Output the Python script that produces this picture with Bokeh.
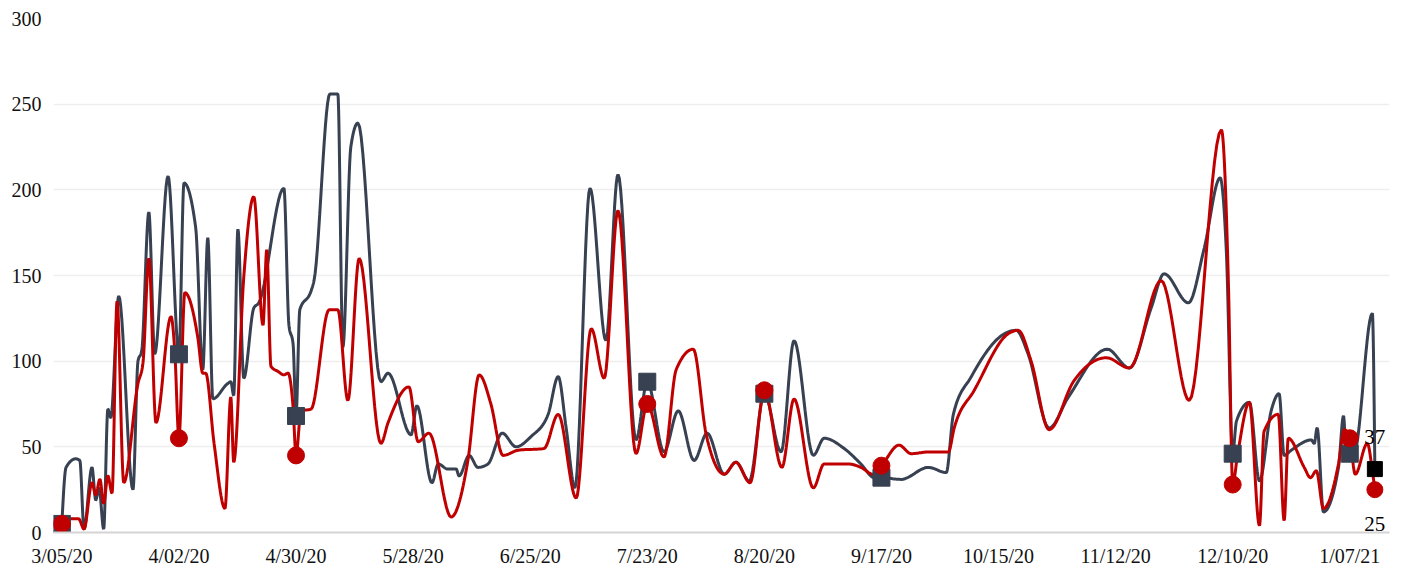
import numpy as np
from bokeh.plotting import figure
from bokeh.models import Range1d, FixedTicker, ColumnDataSource
from bokeh.embed import file_html
from bokeh.resources import INLINE
from bokeh.core.properties import value

# ---- data (day number counted from 3/05/20) ----
tick_days = [0, 28, 56, 84, 112, 140, 168, 196, 224, 252, 280, 308]
tick_labels = ["3/05/20", "4/02/20", "4/30/20", "5/28/20", "6/25/20", "7/23/20",
               "8/20/20", "9/17/20", "10/15/20", "11/12/20", "12/10/20", "1/07/21"]

dark_days = [0, 1.0, 3.3, 4.3, 5.3, 7.2, 8.1, 8.9, 10.0, 11.0, 11.7, 13.6, 17.0, 18.2, 19.1,
             20.8, 22.2, 25.4, 28, 29.2, 32.0, 33.7, 34.9, 36.1, 39.7, 40.4, 41.1, 42.1, 43.5,
             45.9, 47.1, 53.1, 54.3, 55.3, 56, 56.9, 59.6, 60.3, 64.1, 66.0, 67.2, 69.1, 70.8,
             76.3, 78.0, 83.5, 84.9, 88.5, 90.0, 92.3, 94.3, 95.0, 97.4, 99.5, 101.9, 105.3,
             108.6, 112.2, 116.3, 118.7, 120.6, 122.7, 126.3, 130.1, 133.0, 137.3, 140, 144.0,
             147.4, 151.2, 154.3, 158.4, 161.2, 164.4, 168, 172.0, 175.1, 179.7, 182.3, 187.1,
             191.1, 194.3, 196, 200.7, 207.2, 211.5, 213.2, 217.5, 225.4, 228.2, 231.1, 236.1,
             240.7, 250.0, 255.3, 260.5, 263.6, 269.4, 273.2, 277.0, 278.5, 280, 280.9, 284.0,
             286.4, 289.2, 291.1, 292.3, 294.0, 298.8, 299.5, 300.2, 301.7, 305.3, 306.5, 307.2,
             308, 309.0, 313.4, 314]
dark_vals = [5, 38, 43, 42, 2, 38, 19, 26, 2, 72, 67, 138, 25, 100, 106,
             187, 104, 208, 104, 204, 178, 95, 172, 78, 87, 88, 80, 177, 90,
             131, 134, 201, 121, 110, 68, 130, 141, 147, 256, 256, 108, 225, 239,
             88, 93, 57, 74, 29, 40, 37, 37, 33, 45, 38, 40, 58,
             50, 56, 69, 91, 61, 26, 201, 112, 209, 54, 88, 47,
             71, 42, 58, 34, 41, 30, 81, 47, 112, 45, 55, 49,
             40, 32, 32, 31, 38, 35, 69, 91, 116, 118, 104, 61,
             79, 107, 96, 131, 151, 134, 166, 207, 163, 46, 65, 76,
             30, 71, 81, 45, 48, 54, 52, 61, 12, 38, 68, 44,
             46, 46, 128, 37]

red_days = [0, 1.0, 4.0, 5.3, 7.2, 8.1, 9.1, 10.0, 11.0, 12.0, 13.2, 14.8, 18.2, 19.4, 20.8,
            22.5, 26.1, 27.0, 28, 29.4, 32.5, 33.7, 34.4, 36.4, 39.0, 40.4, 41.1, 43.5, 45.9,
            48.1, 49.0, 50.0, 51.7, 53.1, 54.1, 55.3, 56, 57.2, 59.6, 63.9, 66.0, 68.4, 71.1,
            76.3, 78.0, 83.0, 85.2, 87.8, 93.1, 97.1, 99.8, 102.6, 105.5, 109.1, 115.3, 118.7,
            123.0, 126.6, 129.7, 133.0, 137.3, 140, 144.0, 146.9, 151.0, 154.1, 158.4, 161.2,
            164.6, 168, 172.2, 175.1, 179.7, 182.3, 188.0, 191.1, 194.0, 196, 200.2, 203.1,
            207.2, 212.0, 213.4, 218.2, 226.3, 228.7, 231.8, 236.1, 241.9, 249.8, 255.3, 262.9,
            269.6, 277.3, 279.0, 280, 281.2, 284.0, 286.4, 287.5, 290.9, 292.3, 293.3, 297.1,
            298.6, 300.0, 301.7, 305.3, 306.7, 308, 309.3, 312.2, 313.4, 314]
red_vals = [5, 8, 8, 2, 29, 22, 31, 17, 33, 23, 135, 29, 87, 99, 160,
            64, 126, 106, 55, 140, 114, 93, 93, 52, 14, 79, 41, 149, 196,
            121, 165, 97, 94, 92, 93, 73, 45, 71, 72, 130, 130, 77, 160,
            52, 64, 85, 53, 58, 9, 42, 92, 75, 45, 48, 49, 69,
            20, 119, 90, 188, 46, 75, 44, 95, 107, 57, 34, 41,
            29, 83, 38, 78, 26, 40, 40, 38, 34, 39, 51, 46,
            47, 47, 61, 83, 116, 118, 100, 60, 88, 102, 96, 147,
            77, 235, 143, 28, 46, 76, 4, 59, 69, 7, 55, 38,
            32, 36, 14, 40, 60, 55, 34, 52, 36, 25]

marker_days = [0, 28, 56, 140, 168, 196, 280, 308]
last_day = 314

DARK = "#374151"
RED = "#c00000"
FONT = "Liberation Serif"


def monotone_path(xs, ys, n=14):
    """Monotone cubic (d3 curveMonotoneX style) rendering path through the data points."""
    x = np.asarray(xs, float)
    y = np.asarray(ys, float)
    h = np.diff(x)
    s = np.diff(y) / h
    m = np.zeros_like(y)
    for i in range(1, len(x) - 1):
        s0, s1 = s[i - 1], s[i]
        p = (s0 * h[i] + s1 * h[i - 1]) / (h[i - 1] + h[i])
        m[i] = (np.sign(s0) + np.sign(s1)) * min(abs(s0), abs(s1), 0.5 * abs(p))
    m[0] = (3 * s[0] - m[1]) / 2
    m[-1] = (3 * s[-1] - m[-2]) / 2
    t = np.linspace(0, 1, n, endpoint=False)
    h00 = 2 * t**3 - 3 * t**2 + 1
    h10 = t**3 - 2 * t**2 + t
    h01 = -2 * t**3 + 3 * t**2
    h11 = t**3 - t**2
    px, py = [], []
    for i in range(len(h)):
        px.extend(x[i] + t * h[i])
        py.extend(h00 * y[i] + h10 * h[i] * m[i] + h01 * y[i + 1] + h11 * h[i] * m[i + 1])
    px.append(x[-1])
    py.append(y[-1])
    return px, py


p = figure(frame_width=1336, frame_height=514,
           x_range=Range1d(-2, 317.5), y_range=Range1d(0, 300),
           output_backend="svg", toolbar_location=None,
           min_border_left=53, min_border_right=8, min_border_top=18, min_border_bottom=0)
p.outline_line_color = None
p.background_fill_color = "white"
p.border_fill_color = "white"

# axes
p.xaxis.ticker = FixedTicker(ticks=tick_days)
p.xaxis.major_label_overrides = {d: lab for d, lab in zip(tick_days, tick_labels)}
p.xaxis.axis_line_color = "#d4d4d4"
p.xaxis.axis_line_width = 2
p.xaxis.major_tick_line_color = None
p.xaxis.minor_tick_line_color = None
p.xaxis.major_tick_out = 0
p.xaxis.major_tick_in = 0
p.xaxis.minor_tick_out = 0
p.xaxis.minor_tick_in = 0
p.xaxis.major_label_standoff = 12
p.xaxis.major_label_text_font = FONT
p.xaxis.major_label_text_font_size = "20px"
p.xaxis.major_label_text_color = "#111111"

p.yaxis.ticker = FixedTicker(ticks=[0, 50, 100, 150, 200, 250, 300])
p.yaxis.axis_line_color = None
p.yaxis.major_tick_line_color = None
p.yaxis.minor_tick_line_color = None
p.yaxis.major_tick_out = 0
p.yaxis.major_tick_in = 0
p.yaxis.minor_tick_out = 0
p.yaxis.minor_tick_in = 0
p.yaxis.major_label_standoff = 12
p.yaxis.major_label_text_font = FONT
p.yaxis.major_label_text_font_size = "20px"
p.yaxis.major_label_text_color = "#111111"

p.xgrid.grid_line_color = None
p.ygrid.grid_line_color = "#eeeeee"
p.ygrid.grid_line_width = 1.5

# lines
dx, dy = monotone_path(dark_days, dark_vals)
rx, ry = monotone_path(red_days, red_vals)
p.line(dx, dy, line_color=DARK, line_width=3)
p.line(rx, ry, line_color=RED, line_width=3)

# markers (taken from the series)
dmap = dict(zip(dark_days, dark_vals))
rmap = dict(zip(red_days, red_vals))
p.scatter(marker_days, [dmap[d] for d in marker_days], marker="square", size=17,
          fill_color=DARK, line_color=DARK)
p.scatter(marker_days, [rmap[d] for d in marker_days], marker="circle", size=17,
          fill_color=RED, line_color=RED)
p.scatter([last_day], [dmap[last_day]], marker="square", size=15,
          fill_color="black", line_color="black")
p.scatter([last_day], [rmap[last_day]], marker="circle", size=16,
          fill_color=RED, line_color=RED)

lab_src = ColumnDataSource(dict(x=[last_day, last_day],
                                y=[dmap[last_day], rmap[last_day]],
                                t=[str(dmap[last_day]), str(rmap[last_day])],
                                off=[-32, 34]))
p.text(x="x", y="y", text="t", y_offset="off", source=lab_src,
       text_align="center", text_baseline="middle",
       text_font=value(FONT), text_font_size="21px", text_color="black")

open("out.html", "w").write(file_html(p, INLINE))
